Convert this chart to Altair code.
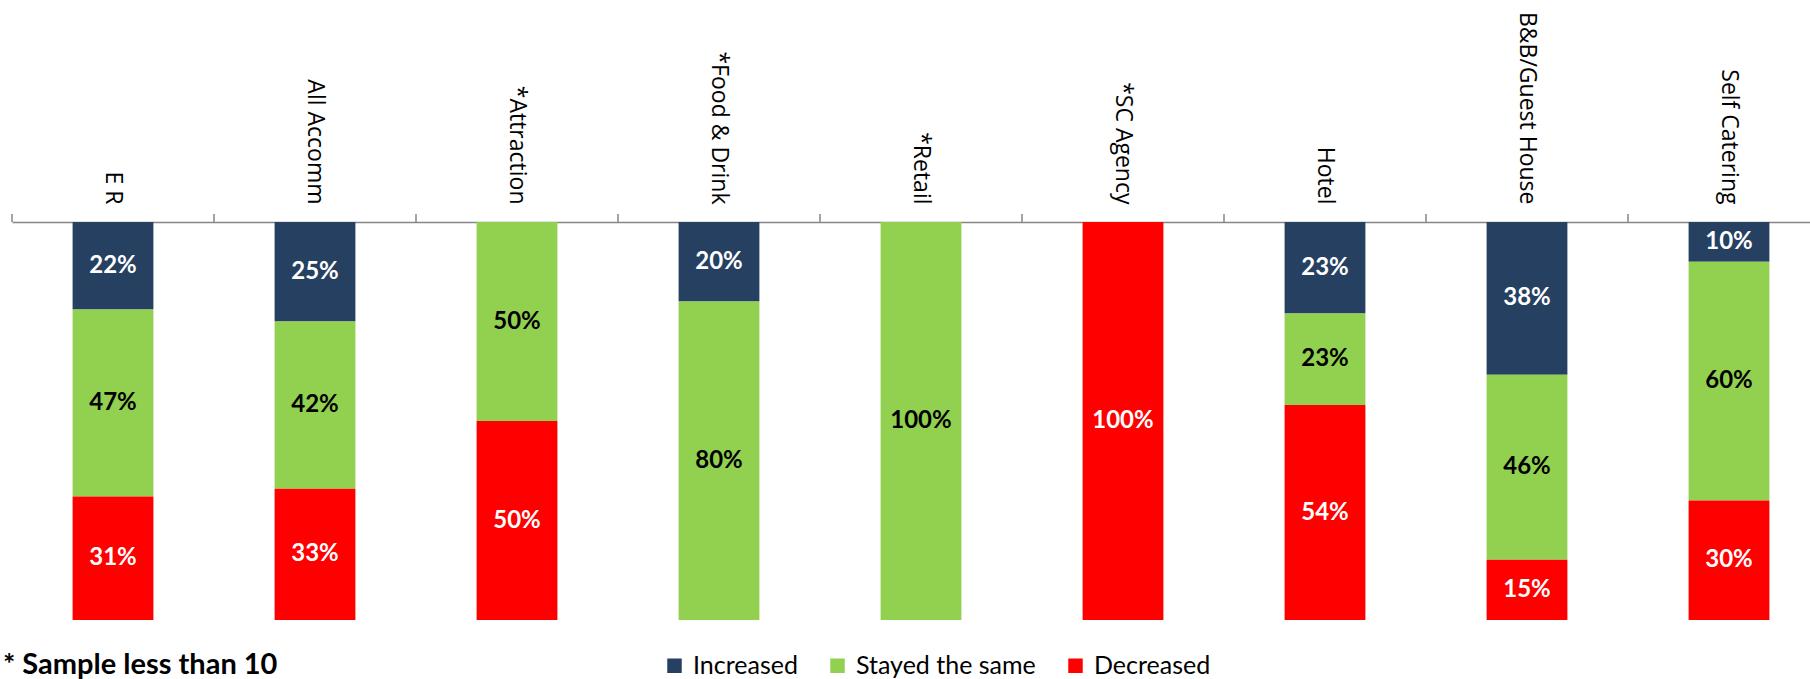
import altair as alt
import pandas as pd

# Business categories along the top axis (asterisk = small sample)
categories = [
    "E R", "All Accomm", "*Attraction", "*Food & Drink", "*Retail",
    "*SC Agency", "Hotel", "B&B/Guest House", "Self Catering",
]
series = ["Increased", "Stayed the same", "Decreased"]

# Percentage of respondents in each category
increased = [22, 25, 0, 20, 0, 0, 23, 38, 10]
stayed = [47, 42, 50, 80, 100, 0, 23, 46, 60]
decreased = [31, 33, 50, 0, 0, 100, 54, 15, 30]

colors = ["#264061", "#92D050", "#FF0000"]
note = "* Sample less than 10"

rows = []
for i, cat in enumerate(categories):
    for k, (name, vals) in enumerate(zip(series, [increased, stayed, decreased])):
        rows.append({"category": cat, "series": name, "order": k, "value": vals[i]})
df = pd.DataFrame(rows)

x_scale = alt.Scale(domain=categories, range=[0, 1818], paddingInner=0, paddingOuter=0)

base = (
    alt.Chart(df)
    .transform_filter("datum.value > 0")
    .transform_stack(
        stack="value",
        groupby=["category"],
        as_=["v0", "v1"],
        offset="normalize",
        sort=[alt.SortField("order", "ascending")],
    )
    .transform_calculate(mid="(datum.v0 + datum.v1) / 2", label="datum.value + '%'")
)

x_enc = alt.X(
    "category:N",
    sort=categories,
    scale=x_scale,
    axis=alt.Axis(
        orient="top",
        title=None,
        ticks=False,
        domain=True,
        domainColor="#868686",
        domainWidth=1.5,
        labelAngle=90,
        labelAlign="right",
        labelBaseline="middle",
        labelPadding=18,
        labelFont="Open Sans",
        labelFontSize=23,
        labelColor="#000000",
        labelLimit=400,
        labelOverlap=False,
    ),
)

y_scale = alt.Scale(domain=[0, 1], reverse=True)

bars = base.mark_bar(width=alt.RelativeBandSize(0.4)).encode(
    x=x_enc,
    y=alt.Y("v0:Q", scale=y_scale, axis=None),
    y2="v1:Q",
    color=alt.Color(
        "series:N",
        scale=alt.Scale(domain=series, range=colors),
        legend=alt.Legend(
            orient="none",
            legendX=650,
            legendY=431,
            direction="horizontal",
            title=None,
            symbolType="square",
            symbolSize=210,
            symbolStrokeWidth=0,
            symbolOpacity=1,
            labelFont="Lato",
            labelFontSize=25,
            labelColor="#000000",
            labelOffset=6,
            labelLimit=400,
            columnPadding=27,
        ),
    ),
)

labels = base.mark_text(
    font="Lato", fontWeight="bold", fontSize=24, baseline="middle", align="center"
).encode(
    x=alt.X("category:N", sort=categories, scale=x_scale),
    y=alt.Y("mid:Q", scale=y_scale, axis=None),
    text="label:N",
    color=alt.condition(
        "datum.series == 'Stayed the same'", alt.value("#000000"), alt.value("#FFFFFF")
    ),
)

# Category boundary ticks on the top axis
ticks = (
    alt.Chart(pd.DataFrame({"category": categories}))
    .mark_rule(color="#868686", strokeWidth=1.5)
    .encode(
        x=alt.X("category:N", sort=categories, scale=x_scale, bandPosition=0),
        y=alt.value(0),
        y2=alt.value(-8),
    )
)

footnote = (
    alt.Chart(pd.DataFrame({"note": [note]}))
    .mark_text(align="left", baseline="alphabetic", font="Lato", fontWeight="bold", fontSize=29)
    .encode(text="note:N", x=alt.value(-9), y=alt.value(452))
)

chart = (
    alt.layer(ticks, bars, labels, footnote)
    .properties(
        width=1798,
        height=398,
        padding={"left": 12, "top": 222, "right": 0, "bottom": 59},
        autosize=alt.AutoSizeParams(type="none"),
    )
    .configure_view(stroke=None)
)

chart.save("out.html", embed_options={"renderer": "svg", "actions": False})
